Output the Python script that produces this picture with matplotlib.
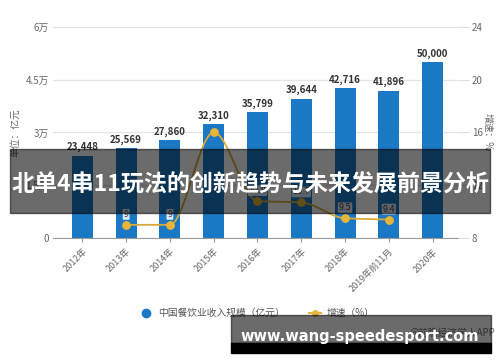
import matplotlib
matplotlib.use('Agg')
import matplotlib.pyplot as plt
from matplotlib.lines import Line2D
from matplotlib.patches import Rectangle
import numpy as np

plt.rcParams['font.family'] = ['Noto Sans CJK SC', 'DejaVu Sans']

# data
years = ['2012年', '2013年', '2014年', '2015年', '2016年', '2017年', '2018年', '2019年前11月', '2020年']
revenue = [23448, 25569, 27860, 32310, 35799, 39644, 42716, 41896, 50000]
growth_idx = [1, 2, 3, 4, 5, 6, 7]
growth = [9.0, 9.0, 16.0, 10.8, 10.7, 9.5, 9.4]
growth_labels = ['9', '9', '', '10.8', '10.7', '9.5', '9.4']
left_ticks = [0, 15000, 30000, 45000, 60000]
left_ticklabels = ['0', '1.5万', '3万', '4.5万', '6万']
right_ticks = [8, 12, 16, 20, 24]

title = '北单4串11玩法的创新趋势与未来发展前景分析'
watermark = 'www.wang-speedesport.com'

BLUE = '#1a78c4'
GOLD = '#e8b53a'
GRAY = '#666666'


def monotone_curve(xs, ys, n=24):
    # smooth line through the points without overshoot (Fritsch-Carlson)
    xs = np.asarray(xs, float)
    ys = np.asarray(ys, float)
    h = np.diff(xs)
    d = np.diff(ys) / h
    m = np.zeros_like(ys)
    m[0], m[-1] = d[0], d[-1]
    for i in range(1, len(ys) - 1):
        if d[i - 1] * d[i] > 0:
            m[i] = 2 / (1 / d[i - 1] + 1 / d[i])
    out_x, out_y = [], []
    for i in range(len(h)):
        t = np.linspace(0, 1, n)
        h00 = 2 * t ** 3 - 3 * t ** 2 + 1
        h10 = t ** 3 - 2 * t ** 2 + t
        h01 = -2 * t ** 3 + 3 * t ** 2
        h11 = t ** 3 - t ** 2
        out_x.extend(xs[i] + t * h[i])
        out_y.extend(h00 * ys[i] + h10 * h[i] * m[i] + h01 * ys[i + 1] + h11 * h[i] * m[i + 1])
    return np.array(out_x), np.array(out_y)


fig = plt.figure(figsize=(5, 3.62), dpi=100)
ax = fig.add_axes([0.106, 0.3425, 0.81, 0.583])
x = np.arange(len(years))

ax.bar(x, revenue, width=0.48, color=BLUE, zorder=2)
for xi, v in zip(x, revenue):
    ax.text(xi, v + 900, f'{v:,}', ha='center', va='bottom', fontsize=7,
            fontweight='bold', color='#333333', zorder=5)

ax.set_ylim(0, 60000)
ax.set_xlim(-0.67, 8.58)
ax.set_yticks(left_ticks)
ax.set_yticklabels(left_ticklabels)
ax.grid(axis='y', color='#e3e3e3', linewidth=0.9, zorder=0)
ax.set_axisbelow(True)
for s in ['top', 'right', 'left']:
    ax.spines[s].set_visible(False)
ax.spines['bottom'].set_color('#999999')
ax.tick_params(axis='y', length=0, labelsize=7, labelcolor=GRAY, pad=3)
ax.tick_params(axis='x', length=3, color='#999999', labelsize=6.5, labelcolor=GRAY)
ax.set_xticks(x)
ax.set_xticklabels(years, rotation=45, ha='right', va='top', rotation_mode='anchor')
ax.set_ylabel('单位：亿元', fontsize=7, color=GRAY, labelpad=4)

ax2 = ax.twinx()
ax2.set_ylim(8, 24)
ax2.set_yticks(right_ticks)
for s in ax2.spines.values():
    s.set_visible(False)
ax2.tick_params(axis='y', length=8, color='#dddddd', labelsize=7, labelcolor=GRAY, pad=2)
ax2.set_ylabel('增速：%', fontsize=7, color=GRAY, rotation=270, labelpad=10)
ax2.yaxis.set_label_coords(1.085, 0.5)

sx, sy = monotone_curve(growth_idx, growth)
ax2.plot(sx, sy, color='#d9a93a', linewidth=1.3, zorder=3)
ax2.scatter(growth_idx, growth, s=28, color=GOLD, zorder=4)
for xi, v, lab in zip(growth_idx, growth, growth_labels):
    if lab:
        ax2.text(xi, v + 0.45, lab, ha='center', va='bottom', fontsize=6.5, color='#444444',
                 bbox=dict(boxstyle='round,pad=0.1', fc='white', ec='none', alpha=0.85), zorder=5)

# legend
handles = [
    Line2D([], [], marker='o', color=BLUE, linestyle='none', markersize=6),
    Line2D([], [], marker='o', color=GOLD, linewidth=1.5, markersize=4),
]
fig.legend(handles, ['中国餐饮业收入规模（亿元）', '增速（%）'], loc='center',
           bbox_to_anchor=(0.515, 1 - 313 / 362), ncol=2, frameon=False, fontsize=7,
           handlelength=1.2, columnspacing=2.5, handletextpad=0.6, labelcolor='#555555')
fig.text(0.99, 1 - 333 / 362, '@前瞻经济学人APP', ha='right', va='center', fontsize=7, color='#777777')

# title banner over the chart
fig.patches.append(Rectangle((10 / 500, 1 - 213 / 362), 480 / 500, 64 / 362,
                             transform=fig.transFigure, color='black', alpha=0.58, zorder=10))
fig.text(0.5, 1 - 185 / 362, title, ha='center', va='center', fontsize=16.6,
         fontweight='bold', color='white', zorder=11)

# watermark box bottom right
fig.patches.append(Rectangle((231 / 500, 1 - 343 / 362), 260 / 500, 28 / 362,
                             transform=fig.transFigure, color='black', alpha=0.58, zorder=10))
fig.patches.append(Rectangle((231 / 500, 1 - 353 / 362), 260 / 500, 10 / 362,
                             transform=fig.transFigure, color='black', zorder=10))
fig.text(360 / 500, 1 - 337 / 362, watermark, ha='center', va='center', fontsize=10.5,
         fontweight='bold', color='white', family=['DejaVu Sans'], zorder=11)

fig.savefig('out.png', dpi=100)
